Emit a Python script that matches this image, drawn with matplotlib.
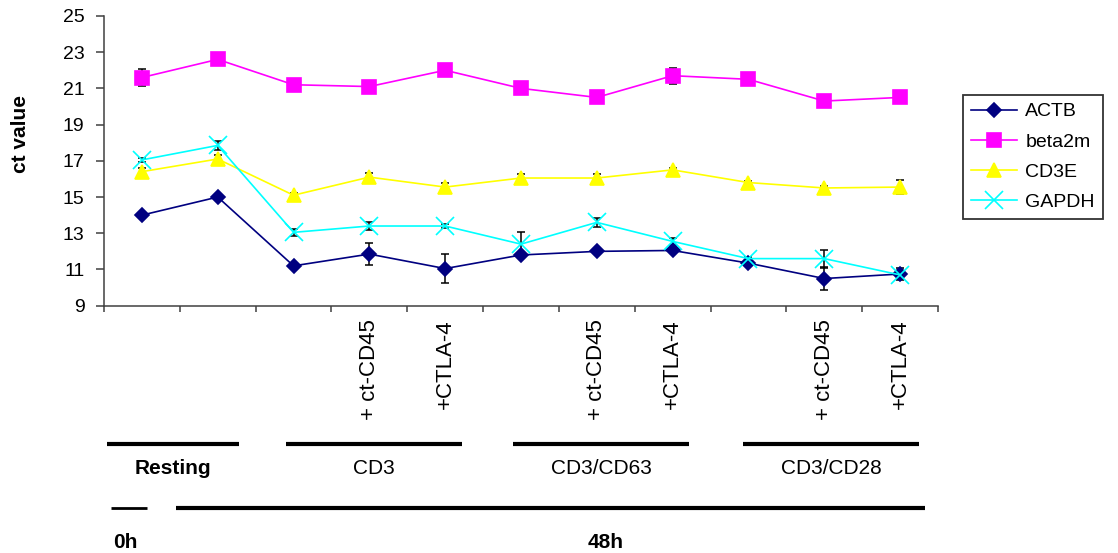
import numpy as np
import matplotlib.pyplot as plt
import matplotlib.transforms as mtransforms
from matplotlib.lines import Line2D

plt.rcParams['font.family'] = ['Liberation Sans', 'DejaVu Sans']

# 11 samples: resting (2), then CD3, CD3/CD63, CD3/CD28 each alone, + ct-CD45, +CTLA-4
tick_labels = ["", "", "", "+ ct-CD45", "+CTLA-4", "", "+ ct-CD45", "+CTLA-4",
               "", "+ ct-CD45", "+CTLA-4"]

actb = [14.0, 15.0, 11.2, 11.85, 11.05, 11.8, 12.0, 12.05, 11.35, 10.5, 10.75]
actb_err = [0.1, 0.1, 0.1, 0.6, 0.8, 0.1, 0.1, 0.1, 0.1, 0.65, 0.35]

beta2m = [21.6, 22.6, 21.2, 21.1, 22.0, 21.0, 20.5, 21.7, 21.5, 20.3, 20.5]
beta2m_err = [0.45, 0.1, 0.1, 0.1, 0.1, 0.1, 0.1, 0.45, 0.1, 0.1, 0.1]

cd3e = [16.4, 17.1, 15.1, 16.1, 15.55, 16.05, 16.05, 16.5, 15.8, 15.5, 15.55]
cd3e_err = [0.2, 0.2, 0.15, 0.2, 0.2, 0.2, 0.2, 0.1, 0.1, 0.1, 0.37]

gapdh = [17.05, 17.85, 13.05, 13.4, 13.4, 12.4, 13.6, 12.55, 11.6, 11.6, 10.7]
gapdh_err = [0.1, 0.25, 0.2, 0.2, 0.1, 0.65, 0.25, 0.2, 0.1, 0.5, 0.2]

# bracket groups under the axis: (label, start, end, bold)
groups = [("Resting", -0.46, 1.28, True), ("CD3", 1.90, 4.22, False),
          ("CD3/CD63", 4.89, 7.22, False), ("CD3/CD28", 7.93, 10.25, False)]
times = [("0h", -0.41, 0.07), ("48h", 0.45, 10.33)]

fig = plt.figure(figsize=(11.18, 5.53), dpi=100)
ax = fig.add_axes([0.093, 0.4472, 0.746, 0.524])

x = np.arange(len(actb))
series = [
    ("ACTB", actb, actb_err, "#000080", "D", 6.8),
    ("beta2m", beta2m, beta2m_err, "#FF00FF", "s", 10),
    ("CD3E", cd3e, cd3e_err, "#FFFF00", "^", 10.5),
    ("GAPDH", gapdh, gapdh_err, "#00FFFF", "x", 13),
]
handles = []
for name, vals, errs, color, marker, ms in series:
    ax.errorbar(x, vals, yerr=errs, fmt='none', ecolor='black',
                elinewidth=1.1, capsize=3, capthick=1.1, zorder=1.5)
    ax.plot(x, vals, color=color, lw=1.2, marker=marker, ms=ms,
            mfc=color, mec=color, mew=1.2, zorder=2)
    handles.append(Line2D([], [], color=color, lw=1.2, marker=marker, ms=ms,
                          mfc=color, mec=color, mew=1.2, label=name))

ax.set_xlim(-0.5, 10.5)
ax.set_ylim(9, 25)
ax.set_yticks(range(9, 26, 2))
for s in ["top", "right"]:
    ax.spines[s].set_visible(False)
for s in ["left", "bottom"]:
    ax.spines[s].set_color("#404040")
    ax.spines[s].set_linewidth(1.1)

ax.set_xticks(x)
ax.set_xticklabels(tick_labels, rotation=90, fontsize=16)
ax.set_xticks(np.arange(-0.5, 11, 1), minor=True)
ax.tick_params(axis='x', which='major', length=0, pad=10)
ax.tick_params(axis='x', which='minor', length=4.5, width=1.1, color="#404040")
ax.tick_params(axis='y', length=6, width=1.1, color="#404040", pad=8, labelsize=14)

fig.text(20 / 1118, 1 - 134 / 553, "ct value", rotation=90, fontsize=15,
         fontweight='bold', ha='center', va='center')

leg = fig.legend(handles=handles, loc='upper left',
                 bbox_to_anchor=(963 / 1118, 1 - 95 / 553), fontsize=14,
                 frameon=True, fancybox=False, edgecolor='black',
                 handlelength=2.4, handletextpad=0.4, labelspacing=0.65,
                 borderpad=0.4, borderaxespad=0)
leg.get_frame().set_linewidth(1.3)

# group brackets and time bars below the axis
trans = mtransforms.blended_transform_factory(ax.transData, fig.transFigure)
for label, x0, x1, bold in groups:
    fig.add_artist(Line2D([x0, x1], [1 - 444 / 553] * 2, transform=trans,
                          color='black', lw=3, solid_capstyle='butt'))
    ax.text((x0 + x1) / 2, 1 - 468 / 553, label, transform=trans, ha='center',
            va='center', fontsize=15, fontweight='bold' if bold else 'normal',
            clip_on=False)
for i, (label, x0, x1) in enumerate(times):
    fig.add_artist(Line2D([x0, x1], [1 - 508 / 553] * 2, transform=trans,
                          color='black', lw=2 if i == 0 else 3,
                          solid_capstyle='butt'))
    if i == 0:
        ax.text(x0 + 0.03, 1 - 542 / 553, label, transform=trans, ha='left',
                va='center', fontsize=15, fontweight='bold', clip_on=False)
    else:
        ax.text(6.11, 1 - 542 / 553, label, transform=trans, ha='center',
                va='center', fontsize=15, fontweight='bold', clip_on=False)

fig.savefig("out.png", dpi=100, facecolor='white')
